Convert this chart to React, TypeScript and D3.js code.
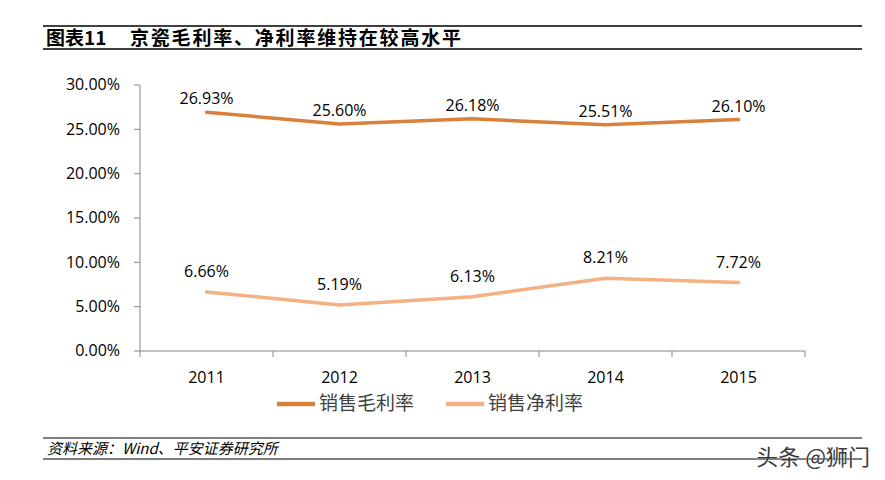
import React, { useEffect, useRef } from 'react';
import * as d3 from 'd3';

const years = ['2011', '2012', '2013', '2014', '2015'];
const grossMargin = [26.93, 25.6, 26.18, 25.51, 26.1];
const netMargin = [6.66, 5.19, 6.13, 8.21, 7.72];
const yTicks = [0, 5, 10, 15, 20, 25, 30];
const seriesNames = ['销售毛利率', '销售净利率'];

export default function App() {
  const svgRef = useRef<SVGSVGElement>(null);

  useEffect(() => {
    if (!svgRef.current) return;
    const svg = d3.select(svgRef.current);
    svg.selectAll('*').remove();

    const width = 885;
    const height = 480;
    const cjk = '"Noto Sans CJK SC", sans-serif';
    const latin = '"Open Sans", "Noto Sans", sans-serif';

    svg.attr('width', width).attr('height', height);

    // header rules and title
    svg.append('line').attr('x1', 43).attr('x2', 862).attr('y1', 26).attr('y2', 26)
      .attr('stroke', '#000').attr('stroke-width', 1.5);
    svg.append('line').attr('x1', 43).attr('x2', 862).attr('y1', 49).attr('y2', 49)
      .attr('stroke', '#000').attr('stroke-width', 1.5);
    const title = svg.append('text').attr('y', 45)
      .attr('font-family', cjk).attr('font-size', '19px').attr('font-weight', 'bold').attr('fill', '#000');
    title.append('tspan').attr('x', 46).text('图表11');
    title.append('tspan').attr('x', 130).attr('letter-spacing', '1.8px').text('京瓷毛利率、净利率维持在较高水平');

    const x = d3.scaleBand().domain(years).range([140, 805]);
    const y = d3.scaleLinear().domain([0, 30]).range([351, 85]);
    const cx = (d: string) => x(d)! + x.bandwidth() / 2;

    const g = svg.append('g');
    const axisColor = '#868686';

    // y axis
    g.append('line').attr('x1', 140).attr('x2', 140).attr('y1', y(30)).attr('y2', y(0))
      .attr('stroke', axisColor).attr('stroke-width', 1);
    yTicks.forEach((t) => {
      g.append('line').attr('x1', 134).attr('x2', 140).attr('y1', y(t)).attr('y2', y(t))
        .attr('stroke', axisColor);
      g.append('text').attr('x', 120).attr('y', y(t) + 1).attr('text-anchor', 'end')
        .attr('dominant-baseline', 'middle').attr('font-family', latin).attr('font-size', '16px')
        .attr('fill', '#000').text(`${t.toFixed(2)}%`);
    });

    // x axis
    g.append('line').attr('x1', 140).attr('x2', 805).attr('y1', y(0)).attr('y2', y(0))
      .attr('stroke', axisColor);
    years.forEach((yr, i) => {
      const x0 = x(yr)!;
      g.append('line').attr('x1', x0 + x.bandwidth()).attr('x2', x0 + x.bandwidth())
        .attr('y1', y(0)).attr('y2', y(0) + 6).attr('stroke', axisColor);
      if (i === 0) {
        g.append('line').attr('x1', x0).attr('x2', x0).attr('y1', y(0)).attr('y2', y(0) + 6)
          .attr('stroke', axisColor);
      }
      g.append('text').attr('x', cx(yr)).attr('y', 383).attr('text-anchor', 'middle')
        .attr('font-family', latin).attr('font-size', '16px').attr('fill', '#000').text(yr);
    });

    const colors = ['#D9803A', '#F4B183'];
    const series = [grossMargin, netMargin];
    const line = d3.line<number>().x((_, i) => cx(years[i])).y((d) => y(d));

    series.forEach((vals, s) => {
      g.append('path').datum(vals).attr('d', line).attr('fill', 'none')
        .attr('stroke', colors[s]).attr('stroke-width', 3.5).attr('stroke-linecap', 'round')
        .attr('stroke-linejoin', 'round');
      vals.forEach((v, i) => {
        g.append('text').attr('x', cx(years[i])).attr('y', y(v) - (s === 0 ? 8 : 15))
          .attr('text-anchor', 'middle').attr('font-family', latin).attr('font-size', '16px')
          .attr('fill', '#000').text(`${v.toFixed(2)}%`);
      });
    });

    // legend
    const legendX = [277, 446];
    seriesNames.forEach((name, s) => {
      g.append('line').attr('x1', legendX[s]).attr('x2', legendX[s] + 38).attr('y1', 404).attr('y2', 404)
        .attr('stroke', colors[s]).attr('stroke-width', 4.5);
      g.append('text').attr('x', legendX[s] + 42).attr('y', 405).attr('dominant-baseline', 'middle')
        .attr('font-family', cjk).attr('font-size', '19px').attr('fill', '#404040').text(name);
    });

    // footer
    svg.append('line').attr('x1', 43).attr('x2', 862).attr('y1', 438).attr('y2', 438)
      .attr('stroke', '#000').attr('stroke-width', 1.2);
    svg.append('line').attr('x1', 43).attr('x2', 862).attr('y1', 459).attr('y2', 459)
      .attr('stroke', '#000').attr('stroke-width', 1.2);
    svg.append('text').attr('x', 47).attr('y', 454).attr('font-family', cjk)
      .attr('font-size', '15px').attr('font-style', 'italic').attr('fill', '#000')
      .text('资料来源：Wind、平安证券研究所');
    svg.append('text').attr('x', 870).attr('y', 465).attr('text-anchor', 'end')
      .attr('font-family', cjk).attr('font-size', '22px').attr('fill', '#3a3a3a')
      .attr('stroke', '#fff').attr('stroke-width', 0.6).attr('paint-order', 'stroke')
      .text('头条 @狮门');
  }, []);

  return (
    <div style={{ position: 'absolute', left: 0, top: 0 }}>
      <svg ref={svgRef}></svg>
    </div>
  );
}
